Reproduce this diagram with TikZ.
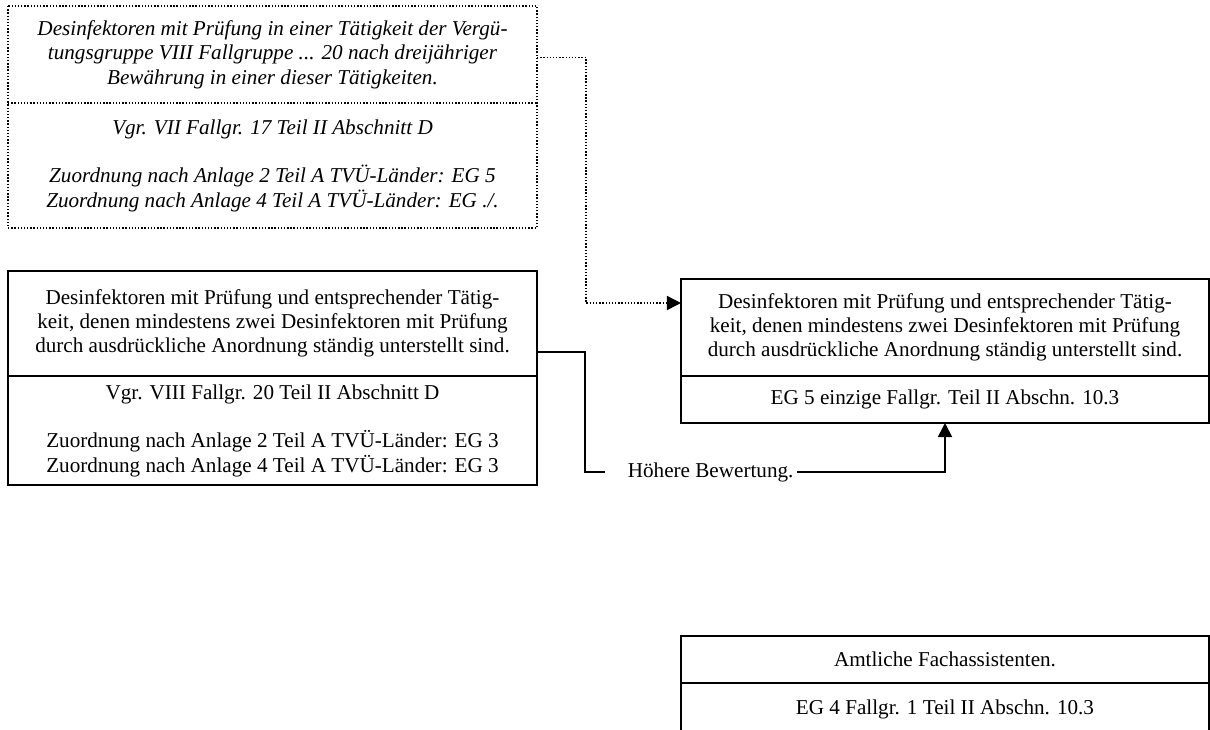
\documentclass[tikz,border=0pt]{standalone}
\usepackage{fontspec}
\setmainfont{Liberation Serif}
\usetikzlibrary{arrows.meta}
\tikzset{>={Triangle[length=8pt,width=8pt]}}
\newcommand{\px}{0.5675pt}
\tikzset{
    feld/.style={draw, line width=1pt, align=center, anchor=north west, outer sep=0pt,
        minimum width=528*\px, font={\fontsize{12}{13.8}\selectfont}},
    feldp/.style={feld, draw=none, minimum width=529*\px,
        font={\fontsize{12}{13.8}\selectfont\itshape}},
    punkte/.style={line width=0.8pt, dash pattern=on 0.8pt off 1pt},
}

\begin{document}
\begin{tikzpicture}[x=\px, y=-\px]
    \useasboundingbox (0,0) rectangle (1210,729);

    % alte Taetigkeit (gepunktet)
    \node[feldp, minimum height=97*\px] (obenA) at (8,6) {Desinfektoren mit Prüfung in einer Tätigkeit der Vergü-\\tungsgruppe VIII Fallgruppe ... 20 nach dreijähriger\\Bewährung in einer dieser Tätigkeiten.};
    \node[feldp, minimum height=125*\px] (obenB) at (obenA.south west) {Vgr. VII Fallgr. 17 Teil II Abschnitt D\\[13.8pt]Zuordnung nach Anlage 2 Teil A TVÜ-Länder: EG 5\\Zuordnung nach Anlage 4 Teil A TVÜ-Länder: EG ./.};
    \draw[punkte] (obenA.north west) rectangle (obenB.south east);
    \draw[punkte] (obenA.south west) -- (obenA.south east);

    \node[feld, minimum width=529*\px, minimum height=105*\px] (linksA) at (8,271) {Desinfektoren mit Prüfung und entsprechender Tätig-\\keit, denen mindestens zwei Desinfektoren mit Prüfung\\durch ausdrückliche Anordnung ständig unterstellt sind.};
    \node[feld, minimum width=529*\px, minimum height=109*\px] (linksB) at (linksA.south west) {Vgr. VIII Fallgr. 20 Teil II Abschnitt D\\[13.8pt]Zuordnung nach Anlage 2 Teil A TVÜ-Länder: EG 3\\Zuordnung nach Anlage 4 Teil A TVÜ-Länder: EG 3};

    \node[feld, minimum height=97*\px] (rechtsA) at (681,279) {Desinfektoren mit Prüfung und entsprechender Tätig-\\keit, denen mindestens zwei Desinfektoren mit Prüfung\\durch ausdrückliche Anordnung ständig unterstellt sind.};
    \node[feld, minimum height=47*\px] (rechtsB) at (rechtsA.south west) {EG 5 einzige Fallgr. Teil II Abschn. 10.3};

    \node[feld, minimum height=47*\px] (untenA) at (681,636) {Amtliche Fachassistenten.};
    \node[feld, minimum height=52*\px] (untenB) at (untenA.south west) {EG 4 Fallgr. 1 Teil II Abschn. 10.3};

    \node[font={\fontsize{12}{13.8}\selectfont}, inner sep=2pt, anchor=west] (hoeher) at (624,472) {Höhere Bewertung.};

    \draw[->, punkte] ([yshift=-3*\px]obenA.east) -- ++(49,0) |- ([yshift=-24*\px]rechtsA.north west);
    \draw[line width=1pt] ([yshift=24*\px]linksA.south east) -- ++(48,0) |- ([xshift=-19*\px]hoeher.west);
    \draw[->, line width=1pt] (hoeher.east) -| (rechtsB.south);
\end{tikzpicture}
\end{document}
